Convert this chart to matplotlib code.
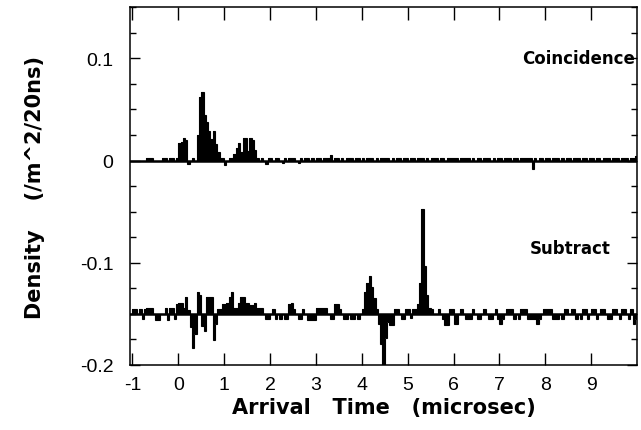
import matplotlib
matplotlib.use("Agg")
import matplotlib.pyplot as plt
import numpy as np

plt.rcParams['font.family'] = ['Liberation Sans', 'DejaVu Sans']
plt.rcParams['axes.unicode_minus'] = False

# histogram bins: 0.05 microsec wide, from -1 to 10 microsec
t_first = -1.0
bin_width = 0.05

# Coincidence density, units of 1e-3 /m^2/20ns, one row per microsecond
coin_rows = [
    [0, 0, 0, 0, 0, 0, 2, 2, 2, 0, 0, 0, 0, 2, 2, 0, 2, 2, 0, 2],          # -1
    [17, 18, 22, 20, -3, 0, 2, 0, 25, 62, 67, 45, 38, 29, 21, 29, 16, 8, 2, 2],  # 0
    [-4, 0, 2, 2, 6, 12, 17, 8, 22, 22, 9, 22, 20, 10, 2, 0, 2, 0, -3, 2],  # 1
    [2, 0, 2, 2, 0, -2, 2, 0, 2, 2, 2, 0, -2, 2, 0, 2, 2, 0, 2, 0],         # 2
    [2, 2, 0, 2, 2, 2, 5, 0, 2, 2, 0, 2, 0, 2, 2, 2, 0, 2, 2, 0],           # 3
    [2, 0, 2, 2, 2, 0, 2, 0, 2, 2, 2, 2, 0, 2, 0, 2, 2, 0, 2, 2],           # 4
    [0, 2, 2, 0, 2, 2, 2, 0, 2, 0, 2, 2, 2, 0, 2, 2, 0, 2, 2, 2],           # 5
    [2, 2, 0, 2, 2, 2, 2, 0, 2, 0, 2, 2, 0, 2, 2, 2, 0, 2, 0, 2],           # 6
    [2, 0, 2, 2, 2, 0, 2, 2, 0, 2, 2, 2, 2, 2, -8, 2, 0, 2, 2, 0],          # 7
    [2, 2, 0, 2, 2, 2, 0, 2, 0, 2, 2, 0, 2, 2, 2, 0, 2, 2, 0, 2],           # 8
    [2, 0, 2, 2, 0, 2, 2, 2, 0, 2, 2, 2, 0, 2, 2, 2, 0, 2, 2, 4],           # 9
]

# Subtract density (relative to its own baseline), same units
sub_rows = [
    [5, 5, 0, 5, -5, 5, 6, 6, 6, 0, -6, -6, 0, 0, 6, -6, 6, 6, -5, 10],            # -1
    [11, 11, 6, 16, 4, -13, -33, -20, 21, 18, -12, -17, 16, 16, 16, -26, -10, 5, 5, 10],  # 0
    [10, 11, 16, 21, 6, 6, 11, 16, 16, 11, 11, 9, 9, 11, 6, 6, 6, 0, -5, -5],      # 1
    [0, 5, -5, 0, -5, 0, -5, -5, 10, 11, 5, 0, -5, -5, 5, 0, -6, -6, -6, -6],      # 2
    [6, 6, 6, 6, 6, 0, -5, -5, 10, 10, 5, 0, -5, -5, 0, -5, -5, 0, -5, 0],         # 3
    [5, 21, 30, 37, 26, 15, 5, -10, -30, -50, -24, -8, -11, -11, 5, 5, 0, -5, -5, 5],  # 4
    [5, -4, 5, 5, 10, 30, 103, 47, 18, 6, 5, 0, 0, 5, 0, -5, -11, -11, 5, 5],      # 5
    [-10, -10, 0, 5, 0, -5, -5, -5, 5, 0, -5, -5, 0, 5, 0, -5, -5, 0, 5, -5],      # 6
    [-10, -5, 0, 5, 5, 5, -5, 0, -5, 5, 5, 5, -5, -5, -5, -5, -10, -5, 0, 5],      # 7
    [5, 5, 5, -5, -5, -5, 0, -5, 5, 5, 0, 5, 5, -5, 0, -5, 5, 5, -5, 0],           # 8
    [5, 5, -5, 0, 5, 5, 0, -5, -5, 5, 5, 0, -5, 5, 5, 0, -5, 5, -10, -5],          # 9
]

coin_offset = 0.0
sub_offset = -0.15

coin = np.concatenate(coin_rows) / 1000.0
sub = np.concatenate(sub_rows) / 1000.0
edges = t_first + bin_width * np.arange(len(coin) + 1)

fig = plt.figure(figsize=(6.41, 4.31), dpi=100)
ax = fig.add_axes([0.203, 0.151, 0.791, 0.830])

for vals, off in [(coin, coin_offset), (sub, sub_offset)]:
    ax.stairs(vals + off, edges, baseline=off, fill=True, color='black', lw=0)
    ax.stairs(vals + off, edges, baseline=off, fill=False, color='black', lw=0.8)
    ax.axhline(off, color='black', lw=1.8)

ax.set_xlim(-1.05, 10)
ax.set_ylim(-0.2, 0.15)

ax.set_xticks(range(-1, 10))
ax.set_xticklabels([str(i) for i in range(-1, 10)])
ax.set_yticks([0.1, 0, -0.1, -0.2])
ax.set_yticklabels(["0.1", "0", "-0.1", "-0.2"])
ax.set_yticks(np.arange(-0.2, 0.151, 0.025), minor=True)

ax.tick_params(which='both', direction='in', top=True, right=True, labelsize=14, width=1)
ax.tick_params(axis='x', which='major', length=9, pad=8)
ax.tick_params(axis='y', which='major', length=7, pad=12)
ax.tick_params(axis='y', which='minor', length=4)
for s in ax.spines.values():
    s.set_linewidth(1.1)

bold = dict(family='DejaVu Sans', fontweight='bold')
ax.text(9.95, 0.100, "Coincidence", ha='right', va='center', fontsize=12, **bold)
ax.text(9.42, -0.086, "Subtract", ha='right', va='center', fontsize=12, **bold)

ax.set_xlabel("Arrival   Time   (microsec)", fontsize=15, labelpad=3, **bold)
ax.set_ylabel("Density    (/m^2/20ns)", fontsize=15, labelpad=25, **bold)

fig.savefig("out.png", dpi=100)
